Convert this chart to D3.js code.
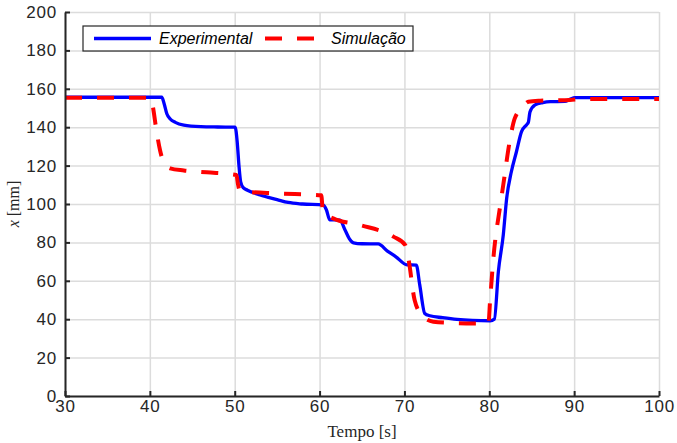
<!DOCTYPE html>
<html>
<head>
<meta charset="utf-8">
<script src="https://cdn.jsdelivr.net/npm/d3@7"></script>
<style>
  body { margin: 0; background: #fff; }
  .tick text { font-family: "Liberation Sans", Arial, sans-serif; font-size: 17px; letter-spacing: 0.8px; fill: #262626; }
  .grid line { stroke: #dcdcdc; stroke-width: 1.5; }
  .grid path { display: none; }
  .axis path, .axis line { stroke: #262626; stroke-width: 2; }
</style>
</head>
<body>
<div id="chart"></div>
<script>
// Experimental (blue) curve: time [s] and position [mm]
var expTime = [30, 41.4, 41.7, 42.0, 42.4, 43.0, 44, 46, 48, 50.05, 50.3, 50.5, 50.7, 51.0, 51.5, 53, 55, 56.3, 58, 60.4,
  60.8, 61.2, 62.4, 63, 63.5, 64, 65, 66.9, 68, 69, 70.3, 71.4, 71.8, 72.4, 73, 74.5, 76.2, 78, 80.1, 80.6,
  81.07, 81.65, 82.05, 82.6, 83.2, 83.8, 84.4, 84.6, 84.8, 85.4, 86.3, 87.2, 88.9, 89.5, 90.1, 100]
var expPos = [155.6, 155.6, 152, 147, 144.3, 142.5, 141.1, 140.3, 140.1, 140, 132, 120, 111.6, 108.5, 107.2, 104.7, 102.3, 100.8, 100, 99.5,
  97, 91.8, 91.6, 86.5, 82, 79.8, 79.3, 79.2, 75.5, 72.5, 68.3, 68.2, 58, 43, 41.8, 40.8, 39.9, 39.4, 39.2, 40,
  64.8, 83.9, 103, 116.8, 127.2, 137.7, 141.3, 142.5, 148, 151.6, 152.8, 153.3, 153.4, 154.5, 155.4, 155.4]

// Simulation (red dashed) curve
var simTime = [30, 40.1, 40.3, 40.8, 41.2, 41.6, 42.4, 44, 46.7, 50.2, 50.4, 50.6, 55, 60.2, 60.4, 61.6, 64.8, 68.7, 70.1, 70.5,
  71.2, 72.2, 73.4, 76, 78.1, 79.9, 80.1, 80.5, 81.3, 81.65, 82.4, 83, 84, 84.4, 84.6, 86, 89.5, 91.1, 100]
var simPos = [155.3, 155.3, 152, 137.6, 128, 122, 118.6, 117.5, 116.5, 115.1, 110, 106.8, 105.5, 104.5, 96, 92.5, 89, 83, 78.6, 70.8,
  50, 41.3, 38.7, 38, 37.8, 38, 50, 72.6, 99.5, 110, 132.5, 144.6, 150.7, 152.8, 153.3, 153.8, 154.2, 154.7, 154.7]

var xTicks = [30, 40, 50, 60, 70, 80, 90, 100]
var yTicks = [0, 20, 40, 60, 80, 100, 120, 140, 160, 180, 200]
var seriesNames = ['Experimental', 'Simulação']
var seriesColors = ['#0000ff', '#ff0000']

var margin = {top: 12, right: 18, bottom: 47, left: 65}
var width = 677 - margin.left - margin.right,
    height = 443 - margin.top - margin.bottom

var svgRoot = d3.select('#chart').append('svg')
  .attr('width', 677)
  .attr('height', 443)

var svg = svgRoot.append('g')
  .attr('transform', 'translate(' + margin.left + ',' + margin.top + ')')

var x = d3.scaleLinear().domain([30, 100]).range([0, width])
var y = d3.scaleLinear().domain([0, 200]).range([height, 0])

// grid
svg.append('g').attr('class', 'grid')
  .call(d3.axisLeft(y).tickValues(yTicks).tickSize(-width).tickFormat(''))
svg.append('g').attr('class', 'grid')
  .attr('transform', 'translate(0,' + height + ')')
  .call(d3.axisBottom(x).tickValues(xTicks).tickSize(-height).tickFormat(''))

// curves
var expData = expTime.map(function (t, i) { return [t, expPos[i]] })
var simData = simTime.map(function (t, i) { return [t, simPos[i]] })

var line = d3.line()
  .x(d => x(d[0]))
  .y(d => y(d[1]))
  .curve(d3.curveMonotoneX)

svg.append('path').datum(expData)
  .attr('d', line)
  .attr('fill', 'none')
  .attr('stroke', seriesColors[0])
  .attr('stroke-width', 3.3)
  .attr('stroke-linejoin', 'round')

svg.append('path').datum(simData)
  .attr('d', line)
  .attr('fill', 'none')
  .attr('stroke', seriesColors[1])
  .attr('stroke-width', 4)
  .attr('stroke-dasharray', '17,15')

// axes (ticks point inward)
svg.append('g').attr('class', 'axis')
  .call(d3.axisLeft(y).tickValues(yTicks).tickSize(-5).tickSizeOuter(0).tickPadding(8))
svg.append('g').attr('class', 'axis')
  .attr('transform', 'translate(0,' + height + ')')
  .call(d3.axisBottom(x).tickValues(xTicks).tickSize(-5).tickSizeOuter(0).tickPadding(4))

// axis titles
svgRoot.append('text')
  .attr('x', margin.left + width / 2)
  .attr('y', 437)
  .attr('text-anchor', 'middle')
  .style('font-family', '"Liberation Serif", "Times New Roman", serif')
  .style('font-size', '17px')
  .style('fill', '#262626')
  .text('Tempo [s]')

var yTitle = svgRoot.append('text')
  .attr('transform', 'translate(19,' + (margin.top + height / 2) + ') rotate(-90)')
  .attr('text-anchor', 'middle')
  .style('font-family', '"Liberation Serif", "Times New Roman", serif')
  .style('font-size', '16px')
  .style('fill', '#262626')
yTitle.append('tspan').style('font-style', 'italic').text('x')
yTitle.append('tspan').text(' [mm]')

// legend
var legend = svgRoot.append('g')
legend.append('rect')
  .attr('x', 83).attr('y', 26)
  .attr('width', 330).attr('height', 25)
  .attr('fill', '#fff')
  .attr('stroke', '#262626')
  .attr('stroke-width', 1.2)

var legendItems = [
  {name: seriesNames[0], color: seriesColors[0], x0: 94, x1: 151, tx: 159, w: 3.3, dash: null},
  {name: seriesNames[1], color: seriesColors[1], x0: 265, x1: 314, tx: 331, w: 4, dash: '17,15'}
]
legendItems.forEach(function (d) {
  legend.append('line')
    .attr('x1', d.x0).attr('x2', d.x1)
    .attr('y1', 38.5).attr('y2', 38.5)
    .attr('stroke', d.color)
    .attr('stroke-width', d.w)
    .attr('stroke-dasharray', d.dash)
  legend.append('text')
    .attr('x', d.tx).attr('y', 44)
    .style('font-family', '"Liberation Sans", Arial, sans-serif')
    .style('font-size', '16px')
    .style('font-style', 'italic')
    .style('fill', '#000')
    .text(d.name)
})
</script>
</body>
</html>
